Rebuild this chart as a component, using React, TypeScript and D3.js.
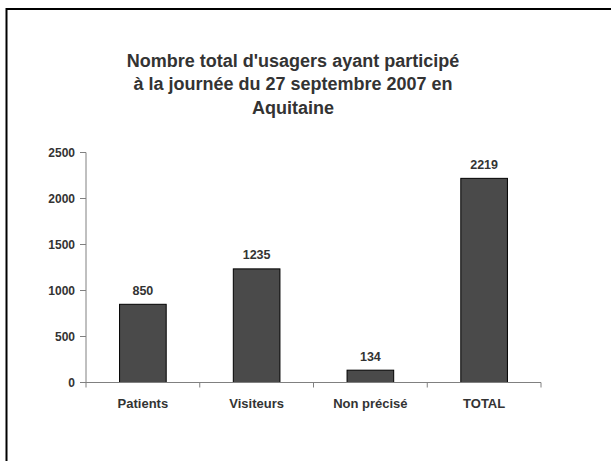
import React from "react";
import * as d3 from "d3";

const categories = ["Patients", "Visiteurs", "Non précisé", "TOTAL"];
const values = [850, 1235, 134, 2219];
const yTicks = [0, 500, 1000, 1500, 2000, 2500];
const titleLines = [
  "Nombre total d'usagers ayant participé",
  "à la journée du 27 septembre 2007 en",
  "Aquitaine",
];

export default function App() {
  const W = 611;
  const H = 461;
  const x0 = 86;
  const x1 = 541;
  const y = d3.scaleLinear().domain([0, 2500]).range([382.5, 152.5]);
  const x = d3.scaleBand<string>().domain(categories).range([x0, x1]).paddingInner(0.59).paddingOuter(0.295);
  const band = (x1 - x0) / categories.length;
  const font = "'Liberation Sans', Arial, sans-serif";
  const textColor = "#333333";
  return (
    <svg
      width={W}
      height={H}
      style={{ position: "absolute", left: 0, top: 0, display: "block" }}
      fontFamily={font}
    >
      <rect x={0} y={0} width={W} height={H} fill="#ffffff" />
      <rect x={6.5} y={9} width={W + 10} height={H + 10} fill="none" stroke="#000" strokeWidth={2} />
      {titleLines.map((t, i) => (
        <text
          key={i}
          x={293}
          y={66.7 + i * 23.5}
          textAnchor="middle"
          fontSize={18}
          fontWeight="bold"
          fill={textColor}
        >
          {t}
        </text>
      ))}
      {/* y axis */}
      <line x1={x0} x2={x0} y1={y(2500)} y2={y(0)} stroke="#808080" strokeWidth={1} />
      {yTicks.map((t) => (
        <g key={t}>
          <line x1={x0 - 6} x2={x0} y1={y(t)} y2={y(t)} stroke="#808080" />
          <text
            x={75}
            y={y(t) + 4.3}
            textAnchor="end"
            fontSize={12}
            fontWeight="bold"
            fill={textColor}
          >
            {t}
          </text>
        </g>
      ))}
      {/* bars */}
      {categories.map((c, i) => (
        <g key={c}>
          <rect
            x={x(c)!}
            y={y(values[i])}
            width={x.bandwidth()}
            height={y(0) - y(values[i])}
            fill="#4a4a4a"
            stroke="#000"
            strokeWidth={1}
          />
          <text
            x={x(c)! + x.bandwidth() / 2}
            y={y(values[i]) - 9.5}
            textAnchor="middle"
            fontSize={12.5}
            fontWeight="bold"
            fill={textColor}
          >
            {values[i]}
          </text>
          <text
            x={x0 + band * (i + 0.5)}
            y={407.5}
            textAnchor="middle"
            fontSize={13}
            fontWeight="bold"
            fill={textColor}
          >
            {c}
          </text>
        </g>
      ))}
      {/* x axis */}
      <line x1={x0 - 6} x2={x1} y1={y(0)} y2={y(0)} stroke="#808080" />
      {categories.map((c, i) => (
        <line
          key={c}
          x1={x0 + band * (i + 1)}
          x2={x0 + band * (i + 1)}
          y1={y(0)}
          y2={y(0) + 5}
          stroke="#808080"
        />
      ))}
      <line x1={x0} x2={x0} y1={y(0)} y2={y(0) + 5} stroke="#808080" />
    </svg>
  );
}
